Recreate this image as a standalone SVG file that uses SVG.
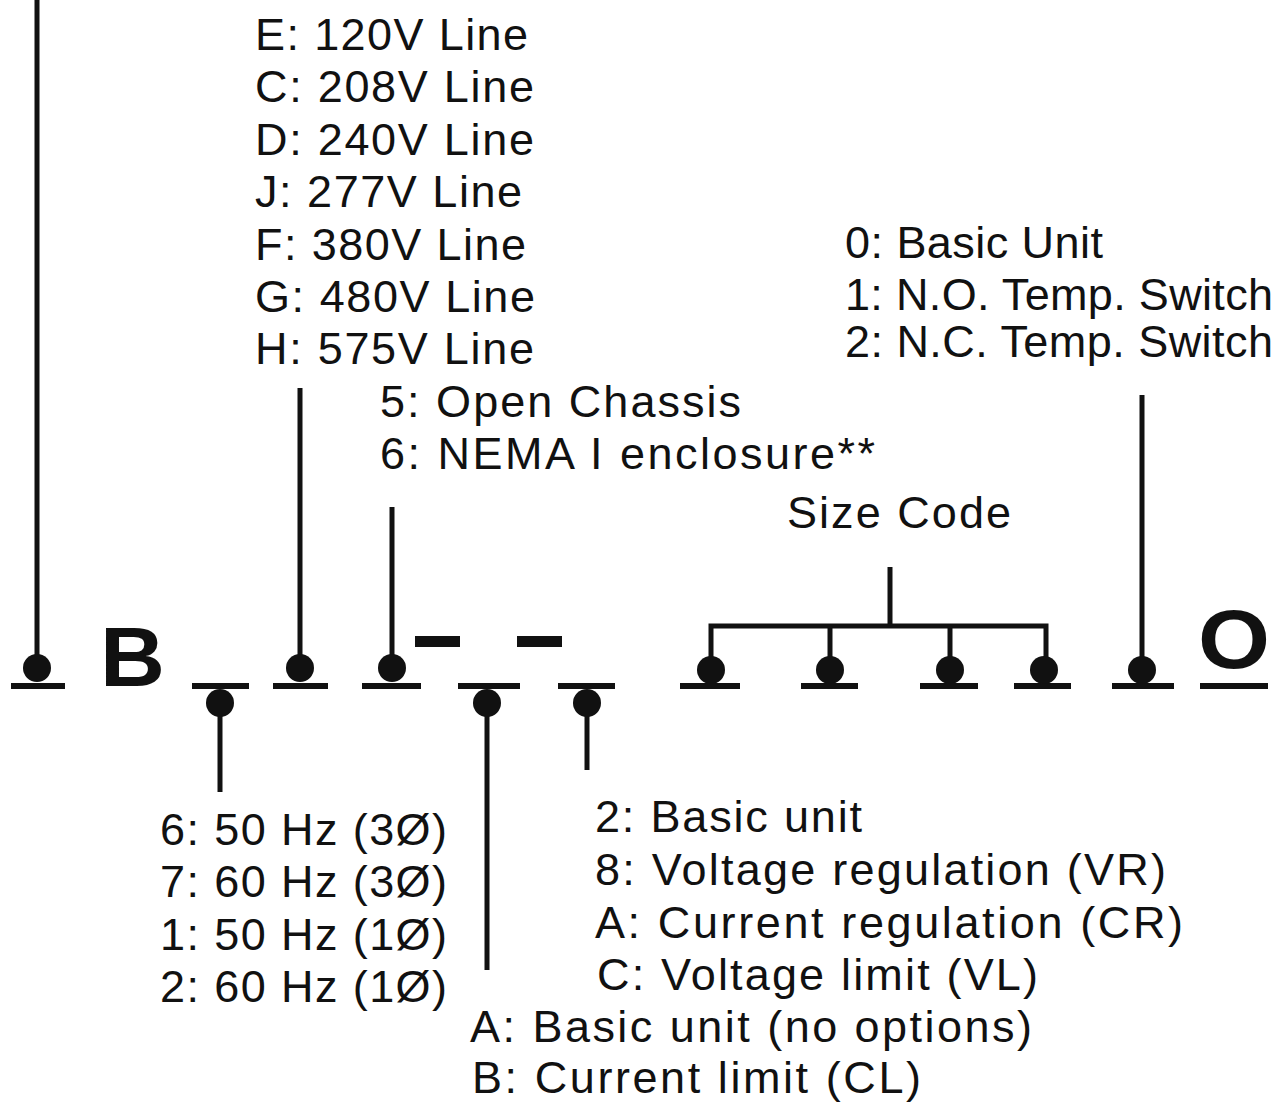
<svg xmlns="http://www.w3.org/2000/svg" width="1276" height="1108" viewBox="0 0 1276 1108">
<style>
text{font-family:"Liberation Sans",Arial,sans-serif;font-size:45px;fill:#111}
.big{font-weight:bold;font-size:84px}
.ln{stroke:#111;stroke-width:5;fill:none}
.ul{stroke:#111;stroke-width:6;fill:none}
.dot{fill:#111}
</style>
<rect width="1276" height="1108" fill="#fff"/>
<g id="connectors">
<line class="ln" x1="37" y1="0" x2="37" y2="665"/>
<line class="ln" x1="220" y1="703" x2="220" y2="792"/>
<line class="ln" x1="300" y1="388" x2="300" y2="665"/>
<line class="ln" x1="392" y1="507" x2="392" y2="665"/>
<line class="ln" x1="487" y1="703" x2="487" y2="970"/>
<line class="ln" x1="587" y1="703" x2="587" y2="770"/>
<line class="ln" x1="890" y1="567" x2="890" y2="626"/>
<polyline class="ln" points="711,668 711,626 1046,626 1046,668"/>
<line class="ln" x1="830" y1="626" x2="830" y2="668"/>
<line class="ln" x1="950" y1="626" x2="950" y2="668"/>
<line class="ln" x1="1142" y1="395" x2="1142" y2="668"/>
</g>
<g id="pos1"><line class="ul" x1="11" y1="686" x2="65" y2="686"/><circle class="dot" cx="37" cy="668" r="14"/></g>
<g id="letterB"><text class="big" x="100" y="686" textLength="65" lengthAdjust="spacingAndGlyphs">B</text></g>
<g id="pos2"><line class="ul" x1="192" y1="686" x2="249" y2="686"/><circle class="dot" cx="220" cy="703" r="14"/></g>
<g id="pos3"><line class="ul" x1="273" y1="686" x2="328" y2="686"/><circle class="dot" cx="300" cy="668" r="14"/></g>
<g id="pos4"><line class="ul" x1="362" y1="686" x2="421" y2="686"/><circle class="dot" cx="392" cy="668" r="14"/></g>
<g id="dash1"><rect x="415" y="636" width="45" height="11" fill="#111"/></g>
<g id="dash2"><rect x="517" y="636" width="45" height="11" fill="#111"/></g>
<g id="pos5"><line class="ul" x1="458" y1="686" x2="520" y2="686"/><circle class="dot" cx="487" cy="703" r="14"/></g>
<g id="pos6"><line class="ul" x1="558" y1="686" x2="615" y2="686"/><circle class="dot" cx="587" cy="703" r="14"/></g>
<g id="size1"><line class="ul" x1="680" y1="686" x2="740" y2="686"/><circle class="dot" cx="711" cy="670" r="14"/></g>
<g id="size2"><line class="ul" x1="801" y1="686" x2="858" y2="686"/><circle class="dot" cx="830" cy="670" r="14"/></g>
<g id="size3"><line class="ul" x1="920" y1="686" x2="978" y2="686"/><circle class="dot" cx="950" cy="670" r="14"/></g>
<g id="size4"><line class="ul" x1="1014" y1="686" x2="1071" y2="686"/><circle class="dot" cx="1044" cy="670" r="14"/></g>
<g id="pos7"><line class="ul" x1="1112" y1="686" x2="1174" y2="686"/><circle class="dot" cx="1142" cy="670" r="14"/></g>
<g id="letterO"><text class="big" x="1198" y="668" textLength="72" lengthAdjust="spacingAndGlyphs">O</text><line class="ul" x1="1200" y1="686" x2="1268" y2="686"/></g>
<g id="voltage">
<text x="255" y="50" textLength="273">E: 120V Line</text>
<text x="255" y="102" textLength="279">C: 208V Line</text>
<text x="255" y="155" textLength="279">D: 240V Line</text>
<text x="255" y="207" textLength="267">J: 277V Line</text>
<text x="255" y="260" textLength="271">F: 380V Line</text>
<text x="255" y="312" textLength="280">G: 480V Line</text>
<text x="255" y="364" textLength="279">H: 575V Line</text>
</g>
<g id="enclosure">
<text x="380" y="417" textLength="361">5: Open Chassis</text>
<text x="380" y="469" textLength="495">6: NEMA I enclosure**</text>
</g>
<g id="options">
<text x="845" y="258" textLength="258">0: Basic Unit</text>
<text x="845" y="310" textLength="428">1: N.O. Temp. Switch</text>
<text x="845" y="357" textLength="428">2: N.C. Temp. Switch</text>
</g>
<g id="sizecode"><text x="787" y="528" textLength="224">Size Code</text></g>
<g id="frequency">
<text x="160" y="845" textLength="287">6: 50 Hz (3Ø)</text>
<text x="160" y="897" textLength="287">7: 60 Hz (3Ø)</text>
<text x="160" y="950" textLength="287">1: 50 Hz (1Ø)</text>
<text x="160" y="1002" textLength="287">2: 60 Hz (1Ø)</text>
</g>
<g id="regulation">
<text x="595" y="832" textLength="267">2: Basic unit</text>
<text x="595" y="885" textLength="571">8: Voltage regulation (VR)</text>
<text x="595" y="938" textLength="588">A: Current regulation (CR)</text>
<text x="597" y="990" textLength="441">C: Voltage limit (VL)</text>
</g>
<g id="limit">
<text x="470" y="1042" textLength="562">A: Basic unit (no options)</text>
<text x="472" y="1093" textLength="449">B: Current limit (CL)</text>
</g>
</svg>
